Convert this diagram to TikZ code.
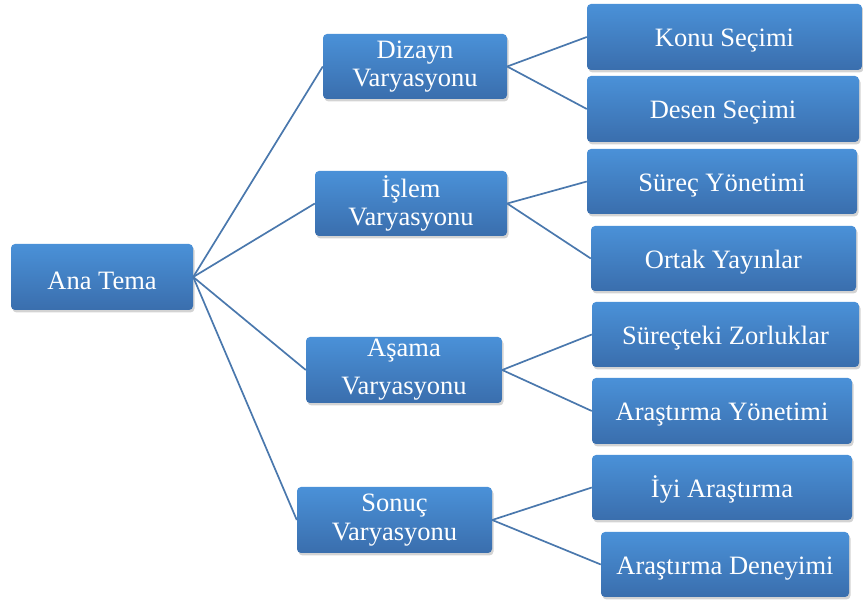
\documentclass[tikz,border=0pt]{standalone}
\usepackage{fontspec}
\setmainfont{Liberation Serif}
\usepackage{tikz}
\usetikzlibrary{positioning, shadows}

\definecolor{boxtop}{HTML}{4A91D8}
\definecolor{boxbot}{HTML}{3A6EAD}
\definecolor{linkblue}{HTML}{4A78AD}

\begin{document}
\begin{tikzpicture}[x=1pt, y=-1pt,
    box/.style={rectangle, rounded corners=4pt, top color=boxtop, bottom color=boxbot, draw=none,
        text=white, align=center, inner sep=0pt, minimum height=#1,
        font=\fontsize{26.5}{28.5}\selectfont,
        execute at begin node={\rule{0pt}{25pt}},
        drop shadow={opacity=0.35, shadow xshift=1.5pt, shadow yshift=-2.5pt}},
    box/.default=65pt,
    link/.style={draw=linkblue, line width=1.7pt}
]
\useasboundingbox (0,0) rectangle (863,601);

% root
\node[box=66pt, minimum width=182pt] (ana) at (102, 277) {Ana Tema};

% middle level
\node[box, minimum width=184pt] (dizayn) at (415, 66.5) {Dizayn\\Varyasyonu};
\node[box, minimum width=192pt] (islem) at (411, 203.5) {İşlem\\Varyasyonu};
\node[box=66pt, minimum width=196pt, font=\fontsize{26.5}{38}\selectfont] (asama) at (404, 370) {Aşama\\Varyasyonu};
\node[box=66pt, minimum width=195pt] (sonuc) at (394.5, 520) {Sonuç\\Varyasyonu};

% leaves
\node[box=66pt, minimum width=275pt] (konu) at (724.5, 37) {Konu Seçimi};
\node[box=66pt, minimum width=272pt] (desen) at (723, 109) {Desen Seçimi};
\node[box, minimum width=270pt] (surec) at (722, 181.5) {Süreç Yönetimi};
\node[box, minimum width=265pt] (ortak) at (723.5, 258.5) {Ortak Yayınlar};
\node[box, minimum width=267pt] (zorluk) at (725.5, 334.5) {Süreçteki Zorluklar};
\node[box=66pt, minimum width=260pt] (aryon) at (722, 411) {Araştırma Yönetimi};
\node[box, minimum width=260pt] (iyi) at (722, 487.5) {İyi Araştırma};
\node[box, minimum width=248pt] (deney) at (725, 564.5) {Araştırma Deneyimi};

% connectors
\foreach \m in {dizayn, islem, asama, sonuc}
    \draw[link] (ana.east) -- (\m.west);
\draw[link] (dizayn.east) -- (konu.west);
\draw[link] (dizayn.east) -- (desen.west);
\draw[link] (islem.east) -- (surec.west);
\draw[link] (islem.east) -- (ortak.west);
\draw[link] (asama.east) -- (zorluk.west);
\draw[link] (asama.east) -- (aryon.west);
\draw[link] (sonuc.east) -- (iyi.west);
\draw[link] (sonuc.east) -- (deney.west);
\end{tikzpicture}
\end{document}
